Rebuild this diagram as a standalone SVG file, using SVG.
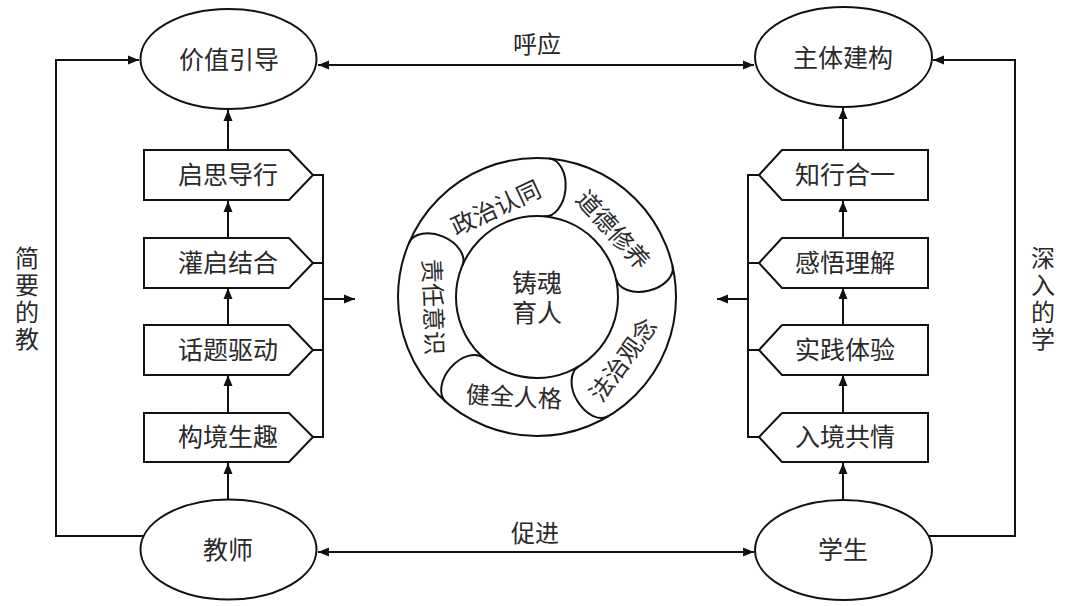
<svg xmlns="http://www.w3.org/2000/svg" width="1065" height="606" viewBox="0 0 1065 606">
<style>
.shape{fill:#fff;stroke:#111;stroke-width:2}
.ln{fill:none;stroke:#111;stroke-width:2}
.t{font-family:"Noto Sans CJK SC","Noto Sans",sans-serif;font-size:25px;fill:#2a2a2a;text-anchor:middle}
.rt{font-family:"Noto Sans CJK SC","Noto Sans",sans-serif;font-size:24px;fill:#2a2a2a;text-anchor:middle}
.vt{font-family:"Noto Sans CJK SC","Noto Sans",sans-serif;font-size:24px;fill:#2a2a2a;text-anchor:middle;writing-mode:vertical-rl;letter-spacing:3px}
</style>
<defs>
<marker id="ah" markerUnits="userSpaceOnUse" markerWidth="12" markerHeight="10" refX="11" refY="5" orient="auto-start-reverse">
<path d="M0,0.5 L11,5 L0,9.5 z" fill="#111"/>
</marker>
</defs>
<rect width="1065" height="606" fill="#fff"/>

<g id="connectors">
  <line class="ln" x1="318" y1="65" x2="754" y2="65" marker-start="url(#ah)" marker-end="url(#ah)"/>
  <line class="ln" x1="318" y1="552" x2="754" y2="552" marker-start="url(#ah)" marker-end="url(#ah)"/>
  <polyline class="ln" points="144,536 56,536 56,60 139,60" marker-end="url(#ah)"/>
  <polyline class="ln" points="928,536 1015,536 1015,60 933,60" marker-end="url(#ah)"/>
  <line class="ln" x1="228" y1="150" x2="228" y2="110" marker-end="url(#ah)"/>
  <line class="ln" x1="228" y1="238" x2="228" y2="201" marker-end="url(#ah)"/>
  <line class="ln" x1="228" y1="325" x2="228" y2="288" marker-end="url(#ah)"/>
  <line class="ln" x1="228" y1="413" x2="228" y2="375" marker-end="url(#ah)"/>
  <line class="ln" x1="228" y1="500" x2="228" y2="463" marker-end="url(#ah)"/>
  <line class="ln" x1="843" y1="150" x2="843" y2="108" marker-end="url(#ah)"/>
  <line class="ln" x1="843" y1="238" x2="843" y2="201" marker-end="url(#ah)"/>
  <line class="ln" x1="843" y1="325" x2="843" y2="288" marker-end="url(#ah)"/>
  <line class="ln" x1="843" y1="413" x2="843" y2="375" marker-end="url(#ah)"/>
  <line class="ln" x1="843" y1="500" x2="843" y2="463" marker-end="url(#ah)"/>
  <path class="ln" d="M313,175 H323 M313,263 H323 M313,350 H323 M313,437 H323 M323,174 V438"/>
  <line class="ln" x1="323" y1="299" x2="355" y2="299" marker-end="url(#ah)"/>
  <path class="ln" d="M759,175 H748 M759,263 H748 M759,350 H748 M759,437 H748 M748,174 V438"/>
  <line class="ln" x1="748" y1="299" x2="717" y2="299" marker-end="url(#ah)"/>
</g>

<g id="node-jiazhi"><ellipse class="shape" cx="228.5" cy="59" rx="88" ry="50"/><text class="t" x="229" y="69">价值引导</text></g>
<g id="node-zhuti"><ellipse class="shape" cx="843.5" cy="57" rx="88.5" ry="50"/><text class="t" x="843" y="67">主体建构</text></g>
<g id="node-jiaoshi"><ellipse class="shape" cx="228.5" cy="549.5" rx="88" ry="50"/><text class="t" x="228" y="559">教师</text></g>
<g id="node-xuesheng"><ellipse class="shape" cx="843.5" cy="550" rx="88.5" ry="50"/><text class="t" x="843" y="559">学生</text></g>

<g id="node-qisi"><path class="shape" d="M144,150 H289 L313,175 L289,200 H144 Z"/><text class="t" x="228" y="184">启思导行</text></g>
<g id="node-guanqi"><path class="shape" d="M144,238 H289 L313,263 L289,288 H144 Z"/><text class="t" x="228" y="272">灌启结合</text></g>
<g id="node-huati"><path class="shape" d="M144,325 H289 L313,350 L289,375 H144 Z"/><text class="t" x="228" y="359">话题驱动</text></g>
<g id="node-goujing"><path class="shape" d="M144,413 H289 L313,437 L289,462 H144 Z"/><text class="t" x="228" y="446">构境生趣</text></g>

<g id="node-zhixing"><path class="shape" d="M782,150 H928 V200 H782 L759,175 Z"/><text class="t" x="845" y="184">知行合一</text></g>
<g id="node-ganwu"><path class="shape" d="M782,238 H928 V288 H782 L759,263 Z"/><text class="t" x="845" y="272">感悟理解</text></g>
<g id="node-shijian"><path class="shape" d="M782,325 H928 V375 H782 L759,350 Z"/><text class="t" x="845" y="359">实践体验</text></g>
<g id="node-rujing"><path class="shape" d="M782,413 H928 V462 H782 L759,437 Z"/><text class="t" x="845" y="446">入境共情</text></g>

<g id="node-center">
  <circle class="shape" cx="537" cy="297" r="139"/>
  <circle class="shape" cx="537" cy="297" r="81"/>
  <path class="ln" d="M549.11,158.53 A29 19 -85 0 1 544.06,216.31"/>
  <path class="ln" d="M672.44,265.73 A29 19 -13 0 1 615.92,278.78"/>
  <path class="ln" d="M608.59,416.15 A29 19 59 0 1 578.72,366.43"/>
  <path class="ln" d="M445.81,401.90 A29 19 131 0 1 483.86,358.13"/>
  <path class="ln" d="M409.05,242.69 A29 19 203 0 1 462.44,265.35"/>
  <text class="t"><tspan x="537" y="292">铸魂</tspan><tspan x="537" y="322">育人</tspan></text>
  <text class="rt" transform="translate(496,208) rotate(-25)" y="8.5">政治认同</text>
  <text class="rt" transform="translate(613,230) rotate(48)" y="8.5">道德修养</text>
  <text class="rt" transform="translate(623,360) rotate(-54)" y="8.5">法治观念</text>
  <text class="rt" transform="translate(514,397) rotate(3)" y="8.5">健全人格</text>
  <text class="rt" transform="translate(433,307) rotate(88)" y="8.5">责任意识</text>
</g>

<g id="labels">
  <text class="t" x="537" y="53" style="font-size:24px">呼应</text>
  <text class="t" x="535" y="542" style="font-size:24px">促进</text>
  <text class="vt" x="27" y="300">简要的教</text>
  <text class="vt" x="1043" y="300">深入的学</text>
</g>
</svg>
